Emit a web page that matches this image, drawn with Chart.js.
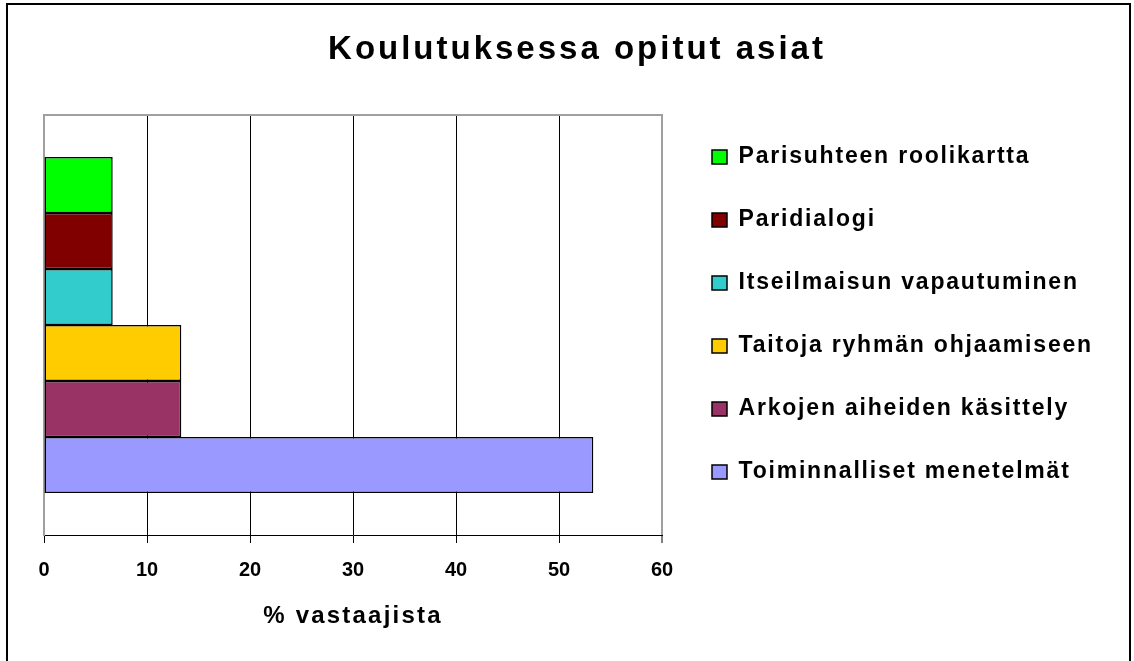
<!DOCTYPE html>
<html>
<head>
<meta charset="utf-8">
<script src="https://cdn.jsdelivr.net/npm/chart.js@4/dist/chart.umd.min.js"></script>
<style>
  html, body { margin: 0; padding: 0; background: #ffffff; }
  #wrap { position: relative; width: 1134px; height: 661px; }
</style>
</head>
<body>
<div id="wrap"><canvas id="c"></canvas></div>
<script>
// ---- data ----
const chartTitle = 'Koulutuksessa opitut asiat';
const axisTitle = '% vastaajista';
const categories = [''];
const seriesLabels = [
  'Parisuhteen roolikartta',
  'Paridialogi',
  'Itseilmaisun vapautuminen',
  'Taitoja ryhmän ohjaamiseen',
  'Arkojen aiheiden käsittely',
  'Toiminnalliset menetelmät'
];
const seriesValues = [6.67, 6.67, 6.67, 13.33, 13.33, 53.33];
const xTickValues = [0, 10, 20, 30, 40, 50, 60];

// ---- styles ----
const palette = ['#00FF00', '#800000', '#33CCCC', '#FFCC00', '#993366', '#9999FF'];
const FONT = '"Liberation Sans", Arial, Helvetica, sans-serif';

const datasets = seriesLabels.map((lab, i) => ({
  label: lab,
  data: [seriesValues[i]],
  backgroundColor: palette[i],
  borderColor: '#000000',
  borderWidth: 1.5,
  borderSkipped: false,
  categoryPercentage: 0.8,
  barPercentage: 1.0
}));

function withSpacing(obj, method, spacing, dx, dy) {
  const orig = obj[method];
  obj[method] = function () {
    const ctx = this.ctx || this.chart.ctx;
    ctx.save();
    try { ctx.letterSpacing = spacing; } catch (e) {}
    ctx.translate(dx, dy);
    const r = orig.apply(this, arguments);
    ctx.restore();
    return r;
  };
}

const patchPlugin = {
  id: 'patcher',
  beforeLayout(chart) {
    if (chart.$patched) return;
    chart.$patched = true;
    const lg = chart.legend;
    if (lg) {
      const origFit = lg.fit;
      lg.fit = function () {
        origFit.apply(this, arguments);
        this.width = 472;
      };
      withSpacing(lg, 'draw', '1.8px', 10, -16);
    }
    if (chart.titleBlock) withSpacing(chart.titleBlock, 'draw', '3px', 10, 0);
    if (chart.scales && chart.scales.x) withSpacing(chart.scales.x, 'drawTitle', '2.2px', 0, 0);
  },
  beforeDatasetsDraw(chart) {
    const a = chart.chartArea, ctx = chart.ctx;
    ctx.save();
    ctx.strokeStyle = '#a0a0a0';
    ctx.lineWidth = 2;
    ctx.beginPath();
    ctx.moveTo(a.left - 1, a.top);
    ctx.lineTo(a.right + 1, a.top);
    ctx.stroke();
    ctx.restore();
  },
  afterDraw(chart) {
    const ctx = chart.ctx;
    ctx.save();
    ctx.strokeStyle = '#000000';
    ctx.lineWidth = 2;
    ctx.beginPath();
    ctx.moveTo(7, 661);
    ctx.lineTo(7, 4);
    ctx.lineTo(1130, 4);
    ctx.lineTo(1130, 661);
    ctx.stroke();
    ctx.restore();
  }
};

new Chart(document.getElementById('c'), {
  type: 'bar',
  data: { labels: categories, datasets: datasets },
  plugins: [patchPlugin],
  options: {
    indexAxis: 'y',
    responsive: true,
    maintainAspectRatio: false,
    animation: false,
    events: [],
    layout: { padding: 0 },
    plugins: {
      tooltip: { enabled: false },
      title: {
        display: true,
        text: chartTitle,
        color: '#000000',
        font: { family: FONT, size: 33, weight: 'bold', lineHeight: 1.2 },
        padding: { top: 30, bottom: 45.4 }
      },
      legend: {
        display: true,
        position: 'right',
        align: 'center',
        labels: {
          color: '#000000',
          font: { family: FONT, size: 23, weight: 'bold' },
          boxWidth: 15,
          boxHeight: 14,
          padding: 40
        }
      }
    },
    scales: {
      x: {
        type: 'linear',
        position: 'bottom',
        min: 0,
        max: 60,
        afterBuildTicks: s => { s.ticks = xTickValues.map(v => ({ value: v })); },
        afterFit: s => { s.height = 126; },
        ticks: {
          color: '#000000',
          font: { family: FONT, size: 20, weight: 'bold' },
          padding: 15,
          maxRotation: 0,
          autoSkip: false
        },
        grid: {
          color: c => c.index === 0 ? 'rgba(0,0,0,0)' : (c.index === xTickValues.length - 1 ? '#a0a0a0' : '#000000'),
          lineWidth: c => c.index === xTickValues.length - 1 ? 2 : 1,
          tickColor: '#000000',
          tickLength: 8,
          tickWidth: 1,
          drawTicks: true
        },
        border: { display: true, color: '#000000', width: 1 },
        title: {
          display: true,
          text: axisTitle,
          color: '#000000',
          font: { family: FONT, size: 24, weight: 'bold', lineHeight: 1.2 },
          padding: { top: 0, bottom: 30 }
        }
      },
      y: {
        type: 'category',
        position: 'left',
        afterFit: s => { s.width = 44; },
        ticks: { display: false },
        grid: { display: false, drawTicks: false },
        border: { display: true, color: '#a0a0a0', width: 2 }
      }
    }
  }
});
</script>
</body>
</html>
